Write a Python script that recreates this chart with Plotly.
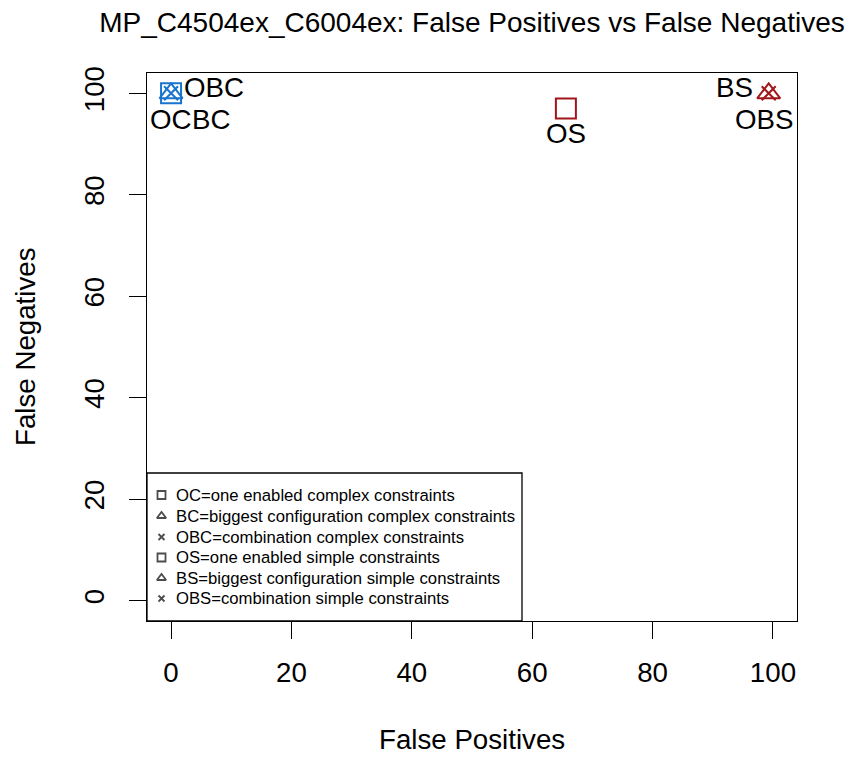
import plotly.graph_objects as go

# Methods compared: share of false positives / false negatives (%)
methods = ["OC", "BC", "OBC", "OS", "BS", "OBS"]
false_pos = [0, 0, 0, 65.6, 99.3, 99.3]
false_neg = [100, 100, 100, 97, 100, 100]
descriptions = [
    "OC=one enabled complex constraints",
    "BC=biggest configuration complex constraints",
    "OBC=combination complex constraints",
    "OS=one enabled simple constraints",
    "BS=biggest configuration simple constraints",
    "OBS=combination simple constraints",
]
tick_vals = [0, 20, 40, 60, 80, 100]

BLUE = "#1874CD"
RED = "#A0161A"
FONT = "Liberation Sans, Arial, Helvetica, sans-serif"
FS = 27.7

symbols = ["square-open", "triangle-up-open", "x-thin-open"] * 2
sizes = [20, 20, 14] * 2
colors = [BLUE] * 3 + [RED] * 3

# label placement per point: (xanchor, xshift, yshift)
label_pos = {
    "OC": ("center", 0, -26),
    "BC": ("left", 19, -26),
    "OBC": ("left", 11, 6),
    "OS": ("center", 0, -25),
    "BS": ("right", -14, 6),
    "OBS": ("center", -5, -26),
}

# plot-area geometry in pixels (used for the boxed key and axis titles)
W, H = 854, 758
ML, MR, MT, MB = 147, 57, 73, 137
PW, PH = W - ML - MR, H - MT - MB


def px_x(p):
    return (p - ML) / PW


def px_y(p):
    return (H - MB - p) / PH


key_rows = [495, 516, 537, 557.5, 578, 598.5]

fig = go.Figure()

for i, m in enumerate(methods):
    fig.add_trace(go.Scatter(
        x=[false_pos[i]], y=[false_neg[i]], mode="markers",
        marker=dict(symbol=symbols[i], size=sizes[i], color=colors[i],
                    line=dict(color=colors[i], width=2)),
        showlegend=False, hoverinfo="skip",
    ))

for i, m in enumerate(methods):
    xa, xs, ys = label_pos[m]
    fig.add_annotation(
        x=false_pos[i], y=false_neg[i], text=m, showarrow=False,
        xanchor=xa, yanchor="middle", xshift=xs, yshift=ys,
        font=dict(family=FONT, size=FS, color="black"),
    )

# key box
fig.add_shape(type="rect", xref="paper", yref="paper",
              x0=px_x(147), x1=px_x(522), y0=px_y(621), y1=px_y(473),
              line=dict(color="black", width=1.3), fillcolor="white",
              layer="below")

# key symbols on an overlay axis spanning the plot area
fig.add_trace(go.Scatter(
    x=[px_x(161.5)] * len(descriptions), y=[px_y(r) for r in key_rows],
    xaxis="x2", yaxis="y2", mode="markers", showlegend=False,
    hoverinfo="skip", cliponaxis=False,
    marker=dict(symbol=symbols, size=[8, 8, 6, 8, 8, 6], color="black",
                line=dict(color="black", width=1.8)),
))

for d, r in zip(descriptions, key_rows):
    fig.add_annotation(
        xref="paper", yref="paper", x=px_x(173.5), y=px_y(r), text=d,
        showarrow=False, xanchor="left", yanchor="middle",
        font=dict(family=FONT, size=16.7, color="black"),
    )

# axis titles
fig.add_annotation(xref="paper", yref="paper", x=0.5, y=px_y(739),
                   text="False Positives", showarrow=False,
                   xanchor="center", yanchor="middle",
                   font=dict(family=FONT, size=FS, color="black"))
fig.add_annotation(xref="paper", yref="paper", x=px_x(25), y=0.5,
                   text="False Negatives", showarrow=False, textangle=-90,
                   xanchor="center", yanchor="middle",
                   font=dict(family=FONT, size=FS, color="black"))

axis_common = dict(
    range=[-4, 104], tickvals=tick_vals, ticks="outside", ticklen=17,
    tickwidth=1.3, tickcolor="black", showgrid=False, zeroline=False,
    showline=True, linecolor="black", linewidth=1.3, mirror=True,
    tickfont=dict(family=FONT, size=FS, color="black"),
)

fig.update_layout(
    width=W, height=H,
    margin=dict(l=ML, r=MR, t=MT, b=MB),
    paper_bgcolor="white", plot_bgcolor="white",
    font=dict(family=FONT, color="black"),
    showlegend=False,
    title=dict(text="MP_C4504ex_C6004ex: False Positives vs False Negatives",
               x=0.5, xref="paper", xanchor="center",
               y=1 - 22 / H, yref="container", yanchor="middle",
               font=dict(family=FONT, size=28, color="black")),
    xaxis=dict(**axis_common, ticklabelstandoff=10),
    yaxis=dict(**axis_common, tickangle=-90, ticklabelstandoff=14),
    xaxis2=dict(overlaying="x", range=[0, 1], visible=False, fixedrange=True),
    yaxis2=dict(overlaying="y", range=[0, 1], visible=False, fixedrange=True),
)

fig.write_html("out.html")
